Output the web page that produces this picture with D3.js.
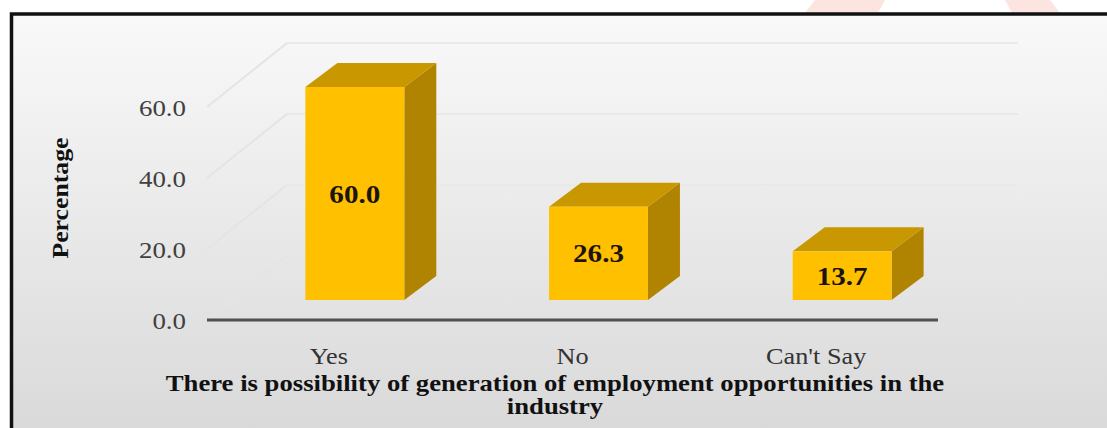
<!DOCTYPE html>
<html>
<head>
<meta charset="utf-8">
<script src="https://cdn.jsdelivr.net/npm/d3@7"></script>
<style>
  html, body { margin: 0; padding: 0; background: #ffffff; }
  svg { display: block; }
</style>
</head>
<body>
<svg id="chart" width="1107" height="428"></svg>
<script>
// ---- data ----
const categories = ["Yes", "No", "Can't Say"];
const values = [60.0, 26.3, 13.7];
const yTicks = [0, 20, 40, 60];
const yTitle = "Percentage";
const xTitleLines = ["There is possibility of generation of employment opportunities in the", "industry"];

// ---- layout ----
const W = 1107, H = 428;
const svg = d3.select("#chart");
const FONT = "'Liberation Serif', 'Times New Roman', serif";

const defs = svg.append("defs");
const bg = defs.append("linearGradient").attr("id", "bg").attr("x1", 0).attr("y1", 0).attr("x2", 0).attr("y2", 1);
bg.append("stop").attr("offset", "0%").attr("stop-color", "#f9f9f9");
bg.append("stop").attr("offset", "100%").attr("stop-color", "#d7d7d7");

// watermark hints above the frame
svg.append("polygon").attr("points", "815,0 885,0 878,13 805,13").attr("fill", "#fce4e0");
svg.append("polygon").attr("points", "1005,0 1050,0 1060,13 1012,13").attr("fill", "#fce4e0");

// frame
svg.append("rect").attr("x", 11.5).attr("y", 14).attr("width", W + 20).attr("height", H + 20)
  .attr("fill", "url(#bg)").attr("stroke", "#111").attr("stroke-width", 3.5);

const x = d3.scaleBand().domain(categories).range([207, 938]).paddingInner(0.594).paddingOuter(0.297);
const y = d3.scaleLinear().domain([0, 60]).range([320, 107]);

// depth offsets
const wall = { dx: 80, dy: -64 };   // back wall relative to front plane
const barOff = { dx: 26, dy: -20 }; // bar front relative to front plane
const depth = { dx: 32, dy: -24 };  // bar depth

const x0 = x.range()[0], x1 = x.range()[1];

// gridlines: side wall diagonal + back wall horizontal
const grid = svg.append("g");
yTicks.forEach(t => {
  const yy = y(t);
  grid.append("line").attr("x1", x0).attr("y1", yy).attr("x2", x0 + wall.dx).attr("y2", yy + wall.dy)
    .attr("stroke", "#e4e4e4").attr("stroke-width", 2);
  if (t > 0) {
    grid.append("line").attr("x1", x0 + wall.dx).attr("y1", yy + wall.dy).attr("x2", x1 + wall.dx).attr("y2", yy + wall.dy)
      .attr("stroke", "#e9e9e9").attr("stroke-width", 2);
  }
});

// bars
const bw = x.bandwidth();
const bars = svg.append("g");
categories.forEach((c, i) => {
  const v = values[i];
  const fx0 = x(c) + barOff.dx, fx1 = fx0 + bw;
  const yt = y(v) + barOff.dy, yb = y(0) + barOff.dy;
  bars.append("polygon")
    .attr("points", [[fx1, yt], [fx1 + depth.dx, yt + depth.dy], [fx1 + depth.dx, yb + depth.dy], [fx1, yb]].map(p => p.join(",")).join(" "))
    .attr("fill", "#b08400");
  bars.append("polygon")
    .attr("points", [[fx0, yt], [fx1, yt], [fx1 + depth.dx, yt + depth.dy], [fx0 + depth.dx, yt + depth.dy]].map(p => p.join(",")).join(" "))
    .attr("fill", "#c99700");
  bars.append("rect").attr("x", fx0).attr("y", yt).attr("width", bw).attr("height", yb - yt).attr("fill", "#ffc000");
  bars.append("text").attr("class", "st").attr("data-s", 1.12)
    .attr("x", fx0 + bw / 2).attr("y", (yt + yb) / 2).attr("dy", "0.35em")
    .attr("text-anchor", "middle").attr("font-family", FONT).attr("font-weight", "bold")
    .attr("font-size", 26).attr("fill", "#1c1410").text(v.toFixed(1));
});

// baseline
svg.append("line").attr("x1", x0).attr("x2", x1).attr("y1", y(0)).attr("y2", y(0))
  .attr("stroke", "#505050").attr("stroke-width", 3);

// y tick labels
const yAxis = svg.append("g").attr("transform", "translate(186,0)")
  .call(d3.axisLeft(y).tickValues(yTicks).tickFormat(d3.format(".1f")).tickSize(0).tickPadding(0));
yAxis.select(".domain").remove();
yAxis.selectAll("text").attr("class", "st").attr("data-s", 1.12).attr("font-family", FONT).attr("font-size", 24).attr("fill", "#404040").attr("dy", "0.35em");

// x category labels
const xAxis = svg.append("g").attr("transform", "translate(0,364)")
  .call(d3.axisBottom(x).tickSize(0).tickPadding(0));
xAxis.select(".domain").remove();
xAxis.selectAll("text").attr("class", "st").attr("data-s", 1.14).attr("font-family", FONT).attr("font-size", 23).attr("fill", "#333").attr("dy", 0);

// y title
svg.append("text").attr("class", "st").attr("data-s", 1.12)
  .attr("transform", "translate(68,198) rotate(-90)")
  .attr("text-anchor", "middle").attr("font-family", FONT).attr("font-weight", "bold")
  .attr("font-size", 23).attr("fill", "#111").text(yTitle);

// x title (one text, two lines)
const xt = svg.append("text")
  .attr("text-anchor", "middle").attr("font-family", FONT).attr("font-weight", "bold")
  .attr("font-size", 23).attr("fill", "#111");
xTitleLines.forEach((l, i) => {
  xt.append("tspan").attr("class", "st").attr("data-s", 1.16)
    .attr("x", 555).attr("y", 391 + i * 23).text(l);
});

// horizontal stretch to match the reference's wide glyphs
svg.selectAll(".st").each(function () {
  const len = this.getComputedTextLength();
  const s = +this.getAttribute("data-s");
  d3.select(this).attr("textLength", len * s).attr("lengthAdjust", "spacingAndGlyphs");
});
</script>
</body>
</html>
